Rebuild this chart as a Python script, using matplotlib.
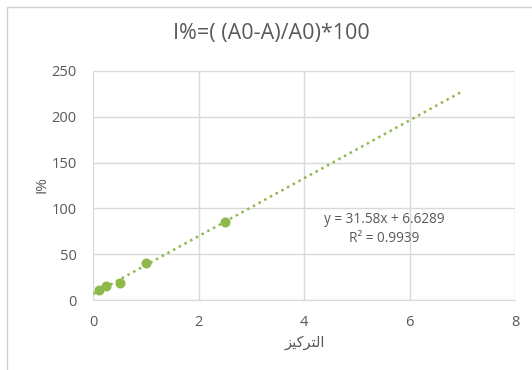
import numpy as np
import matplotlib
matplotlib.use("Agg")
import matplotlib.pyplot as plt
from matplotlib.patches import Rectangle

# Concentration vs. inhibition percentage
concentration = [0.1, 0.25, 0.5, 1.0, 2.5]
inhibition = [11.0, 15.5, 19.0, 40.0, 85.0]

# Linear trendline coefficients
slope = 31.58
intercept = 6.6289
r_squared = 0.9939
trend_x_range = [0, 7]

x_ticks = [0, 2, 4, 6, 8]
y_ticks = [0, 50, 100, 150, 200, 250]

title_text = "I%=( (A0-A)/A0)*100"
y_label = "I%"
# "التركيز" written with Arabic presentation forms in visual order
x_label = "\uFEB0\uFEF4\uFEDB\uFEAE\uFE98\uFEDF\uFE8D"

green = "#8fb94b"
text_gray = "#595959"
grid_gray = "#d9d9d9"

plt.rcParams["font.family"] = ["Open Sans", "DejaVu Sans"]

fig = plt.figure(figsize=(5.32, 3.70), dpi=100)
fig.patch.set_facecolor("white")

# chart frame
fig.add_artist(Rectangle((7 / 532, -0.2), 1.0, 1.2 - 7 / 370,
                         transform=fig.transFigure, fill=False,
                         edgecolor="#d0d0d0", linewidth=1.0))

ax = fig.add_axes([93.3 / 532, 1 - 300 / 370, (515 - 93.3) / 532, (300 - 71) / 370])
ax.set_xlim(x_ticks[0], x_ticks[-1])
ax.set_ylim(y_ticks[0], y_ticks[-1])
ax.set_xticks(x_ticks)
ax.set_yticks(y_ticks)
ax.grid(True, color=grid_gray, linewidth=1.0)
ax.set_axisbelow(True)
for side in ["top", "right", "left"]:
    ax.spines[side].set_visible(False)
ax.spines["bottom"].set_color(grid_gray)
ax.tick_params(length=0, labelsize=10.5, labelcolor=text_gray)
ax.tick_params(axis="y", pad=12)
ax.tick_params(axis="x", pad=11)

tx = np.linspace(trend_x_range[0], trend_x_range[1], 50)
ax.plot(tx, slope * tx + intercept, linestyle=(0, (1, 1.6)),
        color=green, linewidth=1.8, zorder=2)
ax.scatter(concentration, inhibition, s=52, color=green, zorder=3,
           linewidths=0)

ax.text(5.52, 87.5, f"y = {slope}x + {intercept}", ha="center", va="center",
        fontsize=9.8, color=text_gray)
ax.text(5.52, 67.5, f"R\u00b2 = {r_squared}", ha="center", va="center",
        fontsize=9.8, color=text_gray)

fig.text(271 / 532, 1 - 33 / 370, title_text, ha="center", va="center",
         fontsize=15.5, color=text_gray)
fig.text(42 / 532, 1 - 185 / 370, y_label, ha="center", va="center",
         rotation=90, fontsize=11, color=text_gray)
fig.text(305 / 532, 1 - 343 / 370, x_label, ha="center", va="center",
         fontsize=10.5, color=text_gray, family=["DejaVu Sans"])

fig.savefig("out.png", dpi=100, facecolor="white")
